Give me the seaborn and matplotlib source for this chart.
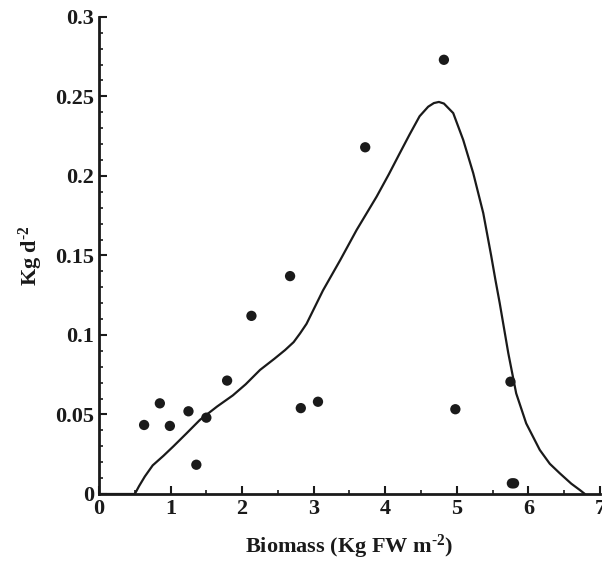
import numpy as np
import pandas as pd
import matplotlib
matplotlib.use("Agg")
import matplotlib.pyplot as plt
from matplotlib.ticker import MultipleLocator, FormatStrFormatter
import seaborn as sns

# observed points
biomass = [0.63, 0.85, 0.99, 1.25, 1.36, 1.50, 1.79, 2.13, 2.67, 2.82, 3.06,
           3.72, 4.82, 4.98, 5.75, 5.77, 5.80]
rate = [0.0434, 0.057, 0.0428, 0.052, 0.0184, 0.048, 0.0713, 0.112, 0.137,
        0.054, 0.058, 0.218, 0.273, 0.0533, 0.0706, 0.0067, 0.0067]

# fitted curve
curve_x = [0.0, 0.5, 0.56, 0.64, 0.75, 0.9, 1.04, 1.22, 1.41, 1.65, 1.87,
           2.05, 2.25, 2.45, 2.60, 2.72, 2.81, 2.90, 3.13, 3.37, 3.60, 3.88,
           4.05, 4.20, 4.34, 4.48, 4.60, 4.68, 4.75, 4.82, 4.95, 5.09, 5.23,
           5.37, 5.48, 5.54, 5.60, 5.72, 5.83, 5.97, 6.16, 6.30, 6.44, 6.60,
           6.72, 6.79]
curve_y = [0.0, 0.0, 0.005, 0.011, 0.018, 0.024, 0.030, 0.038, 0.0466, 0.055,
           0.062, 0.069, 0.078, 0.085, 0.0905, 0.0955, 0.101, 0.107, 0.128,
           0.147, 0.166, 0.187, 0.201, 0.214, 0.226, 0.2375, 0.2435, 0.2458,
           0.2465, 0.2455, 0.2395, 0.2226, 0.2017, 0.1766, 0.150, 0.1346,
           0.120, 0.0885, 0.0633, 0.0444, 0.0277, 0.019, 0.013, 0.0065,
           0.0025, 0.0]

x_ticks = [0, 1, 2, 3, 4, 5, 6, 7]
y_ticks = [0, 0.05, 0.1, 0.15, 0.2, 0.25, 0.3]

sns.set_style("ticks")
plt.rcParams["font.family"] = ["Liberation Serif", "DejaVu Serif"]
plt.rcParams["font.weight"] = "bold"
plt.rcParams["mathtext.fontset"] = "custom"
plt.rcParams["mathtext.rm"] = "Liberation Serif:bold"
plt.rcParams["mathtext.it"] = "Liberation Serif:bold"
plt.rcParams["mathtext.bf"] = "Liberation Serif:bold"
plt.rcParams["mathtext.default"] = "regular"

pts = pd.DataFrame({"x": biomass, "y": rate})
fit = pd.DataFrame({"x": curve_x, "y": curve_y})

fig = plt.figure(figsize=(6.02, 5.62), dpi=100)
ax = fig.add_axes([0.1645, 0.121, 0.832, 0.849])

sns.lineplot(data=fit, x="x", y="y", color="#1a1a1a", linewidth=1.6, ax=ax,
             sort=False, estimator=None)
sns.scatterplot(data=pts, x="x", y="y", color="#1a1a1a", s=55, ax=ax,
                edgecolor="none", zorder=3, clip_on=False)

ax.set_xlim(0, 7)
ax.set_ylim(0, 0.3)
ax.set_xticks(x_ticks)
ax.set_yticks(y_ticks)
ax.yaxis.set_major_formatter(FormatStrFormatter("%g"))
ax.xaxis.set_minor_locator(MultipleLocator(0.5))
ax.yaxis.set_minor_locator(MultipleLocator(0.01))
ax.tick_params(which="major", direction="in", length=6, width=1.5,
               labelsize=16, color="#1a1a1a", labelcolor="#1a1a1a")
ax.tick_params(which="minor", direction="in", length=3, width=1.2,
               color="#1a1a1a")
for lbl in ax.get_xticklabels() + ax.get_yticklabels():
    lbl.set_fontweight("bold")

sns.despine(ax=ax)
for side in ["left", "bottom"]:
    ax.spines[side].set_linewidth(2)
    ax.spines[side].set_color("#1a1a1a")

ax.set_xlabel(r"Biomass (Kg FW m$^{\text{-2}}$)", fontsize=16,
              fontweight="bold", labelpad=10, color="#1a1a1a")
ax.set_ylabel(r"Kg d$^{\text{-2}}$", fontsize=16, fontweight="bold",
              labelpad=7, color="#1a1a1a")

fig.savefig("out.png", dpi=100)
